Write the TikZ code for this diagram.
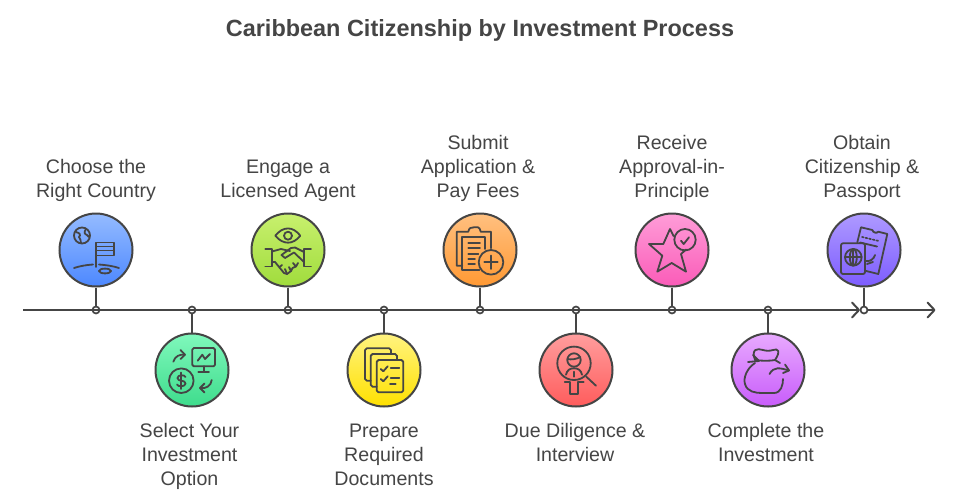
\documentclass[tikz,border=0pt]{standalone}
\usepackage{fontspec}
\setmainfont{Liberation Sans}
\usetikzlibrary{arrows.meta}
\definecolor{ink}{HTML}{454545}
\definecolor{ta}{HTML}{94BBFF}\definecolor{ba}{HTML}{4D88FF}
\definecolor{tb}{HTML}{80F8BC}\definecolor{bb}{HTML}{3EDC8C}
\definecolor{tc}{HTML}{C8F06E}\definecolor{bc}{HTML}{A0DC3C}
\definecolor{td}{HTML}{FFF380}\definecolor{bd}{HTML}{FFE000}
\definecolor{te}{HTML}{FFC080}\definecolor{be}{HTML}{FF9933}
\definecolor{tf}{HTML}{FF9E9E}\definecolor{bf}{HTML}{FF5C5C}
\definecolor{tg}{HTML}{FF9DD8}\definecolor{bg}{HTML}{FA5BB8}
\definecolor{th}{HTML}{E8AAFF}\definecolor{bh}{HTML}{C85CFA}
\definecolor{ti}{HTML}{AE9AFF}\definecolor{bi}{HTML}{7D5CFF}
\tikzset{
  x=1pt,y=-1pt,
  ic/.style={draw=ink,line width=1.8pt,line cap=round,line join=round},
  badge/.style={circle,draw=ink,line width=2pt,minimum size=73pt,inner sep=0pt,top color=t#1,bottom color=b#1},
  dotmark/.style={circle,draw=ink,line width=1.7pt,minimum size=7pt,inner sep=0pt},
  tline/.style={draw=ink,line width=2pt},
  lbl/.style={text=ink,align=center,font=\fontsize{19.6}{24}\selectfont,inner sep=0pt},
}
\begin{document}
\begin{tikzpicture}
\useasboundingbox (0,0) rectangle (960,499);
\fill[white] (0,0) rectangle (960,499);
\node[text=ink,font=\fontsize{23.45}{28}\bfseries\selectfont,inner sep=0pt] (title) at (480,30) {Caribbean Citizenship by Investment Process};
% timeline
\coordinate (tstart) at (23,310);
\coordinate (tmid) at (860,310);
\coordinate (tend) at (935.5,310);
\node[dotmark] (d1) at (96,310) {};
\node[dotmark] (d2) at (192,310) {};
\node[dotmark] (d3) at (288,310) {};
\node[dotmark] (d4) at (384,310) {};
\node[dotmark] (d5) at (480,310) {};
\node[dotmark] (d6) at (576,310) {};
\node[dotmark] (d7) at (672,310) {};
\node[dotmark] (d8) at (768,310) {};
\draw[tline,-{Straight Barb[length=7pt,width=15pt,round]}] (tstart) -- (tmid);
\draw[tline,-{Straight Barb[length=7pt,width=15pt,round]}] (tmid) -- (tend);
\node[dotmark,fill=white] (d9) at (864,310) {};
% badges
\node[badge=a] (c1) at (96,250) {};
\node[badge=b] (c2) at (192,370) {};
\node[badge=c] (c3) at (288,250) {};
\node[badge=d] (c4) at (384,370) {};
\node[badge=e] (c5) at (480,250) {};
\node[badge=f] (c6) at (576,370) {};
\node[badge=g] (c7) at (672,250) {};
\node[badge=h] (c8) at (768,370) {};
\node[badge=i] (c9) at (864,250) {};
\foreach \i in {1,...,9} {\draw[tline] (c\i) -- (d\i);}
% labels
\node[lbl] (l1) at (96,180.5) {\strut Choose the\\\strut Right Country};
\node[lbl] (l2) at (189.5,456.5) {\strut Select Your\\Investment\\\strut Option};
\node[lbl] (l3) at (288,180.5) {\strut Engage a\\\strut Licensed Agent};
\node[lbl] (l4) at (384,456.5) {\strut Prepare\\Required\\\strut Documents};
\node[lbl] (l5) at (478,168.5) {\strut Submit\\Application \&\\\strut Pay Fees};
\node[lbl] (l6) at (575,444.5) {\strut Due Diligence \&\\\strut Interview};
\node[lbl] (l7) at (672,168.5) {\strut Receive\\Approval-in-\\\strut Principle};
\node[lbl] (l8) at (766,444.5) {\strut Complete the\\\strut Investment};
\node[lbl] (l9) at (862,168.5) {\strut Obtain\\Citizenship \&\\\strut Passport};
% icon 1
\begin{scope}[shift={(96,250)},ic]
\draw (-14,-14.5) circle[radius=8];
\draw (-20,-18) .. controls (-16,-17) and (-15,-15) .. (-17,-13) .. controls (-16,-11) and (-15,-10) .. (-15,-7);
\draw (-10,-21) .. controls (-12,-18) and (-12,-16) .. (-9,-15) -- (-7,-13);
\draw (0,17) -- (0,-7.5) -- (18,-7.5) -- (18,5.5) -- (0,5.5);
\draw (0,-3.5) -- (18,-3.5) (0,.5) -- (18,.5);
\draw (-22,18) .. controls (-16,16) and (-10,15) .. (-3,14.5);
\draw (3,14.5) .. controls (10,15) and (17,16) .. (23,18);
\draw (9,21) ellipse[x radius=6,y radius=2.4];
\end{scope}
% icon 2
\begin{scope}[shift={(192,370)},ic]
\draw[rounded corners=1.5] (0.3,-22) rectangle (23,-3.7);
\draw (11.7,-3.7) -- (11.7,1.7) (6.3,1.7) -- (17,1.7);
\draw (5.7,-9.3) -- (10.3,-15.3) -- (13,-11) -- (18,-16);
\draw (-10.7,10.7) circle[radius=12.3];
\draw (-6.5,7) .. controls (-7,4.5) and (-14.5,4.5) .. (-14.5,8) .. controls (-14.5,12) and (-6.5,9.5) .. (-6.5,13.5) .. controls (-6.5,17) and (-14.5,17) .. (-15,14.5);
\draw (-10.7,2.5) -- (-10.7,19);
\draw (-18.7,-8.3) .. controls (-17,-14) and (-12,-16) .. (-7,-15.3);
\draw (-11.5,-20) -- (-7,-15.3) -- (-11.5,-11);
\draw (19.7,10) .. controls (19,16) and (14,19) .. (8,18);
\draw (12.5,13.5) -- (8,18) -- (12.5,22.5);
\end{scope}
% icon 3
\begin{scope}[shift={(288,250)},ic]
\draw (-12.7,-14.3) .. controls (-5,-24) and (5,-24) .. (12.3,-14.3) .. controls (5,-5) and (-5,-5) .. (-12.7,-14.3) -- cycle;
\draw (0,-14.3) circle[radius=4];
\draw (-22.7,-1) -- (-16,-1) -- (-16,16.5) -- (-22.7,16.5);
\draw (23,-1) -- (16,-1) -- (16,16.5) -- (23,16.5);
\draw (-16,1.5) -- (-7,-1) -- (2,1);
\draw (16,2) -- (7,-2.5) -- (3,-2) -- (-6.5,5) -- (-3,8) -- (6,2.5) -- (16,12);
\draw (-16,12) -- (-13,12) -- (-4,23) -- (-1,24) -- (3,21) -- (4.5,18) -- (8,16.5) -- (10,13);
\draw (-8.5,17) -- (-6,15) (-1,24) -- (-3,19) (3,21) -- (1,17) (8,16.5) -- (5,13);
\end{scope}
% icon 4
\begin{scope}[shift={(384,370)},ic,rounded corners=1.8]
\draw (7,-16) -- (7,-21.7) -- (-19,-21.7) -- (-19,10.7) -- (-13.3,10.7);
\draw (13,-10) -- (13,-16) -- (-13.3,-16) -- (-13.3,16.7) -- (-7.3,16.7);
\draw (-7.3,-10) rectangle (19.3,22.3);
\end{scope}
\begin{scope}[shift={(384,370)},ic]
\draw (-3.3,-1) -- (-.7,1.3) -- (3.7,-3.7);
\draw (-3.3,9) -- (-.7,11.3) -- (3.7,6.3);
\draw (6.7,-1.7) -- (15.3,-1.7) (6.7,8) -- (15.3,8) (6,14) -- (11.7,14);
\end{scope}
% icon 5
\begin{scope}[shift={(480,250)},ic]
\draw (11,-1.7) -- (11,-18.3) -- (.7,-18.3) .. controls (0,-24) and (-4,-23) .. (-6,-22.7) .. controls (-9,-23) and (-11,-22) .. (-11.7,-18.3) -- (-23.3,-18.3) -- (-23.3,15.7) -- (-17.7,15.7);
\draw (5,-1) -- (5,-12.7) -- (-17.7,-12.7) -- (-17.7,20) -- (-.7,20);
\draw (-11.7,-7) -- (0,-7) (-11.7,-1.7) -- (0,-1.7) (-11.7,4) -- (-1.7,4) (-11.7,9) -- (-5,9) (-11.7,14) -- (-5,14);
\draw (11,12.3) circle[radius=12.3];
\draw (11,5.6) -- (11,19) (4.3,12.3) -- (17.7,12.3);
\end{scope}
% icon 6
\begin{scope}[shift={(576,370)},ic]
\draw (-2,-6.7) circle[radius=16.7];
\draw (10.3,6.7) -- (20,15.7);
\draw (-2,-10) circle[radius=6.7];
\draw (-8.5,-11) .. controls (-5,-10) and (1,-11) .. (4.3,-13);
\draw (-10,4.7) .. controls (-9,0) and (-6,-1.7) .. (-2,-1.7) .. controls (2,-1.7) and (5,0) .. (6,4.7);
\draw (-2,1.7) -- (-2,6.7);
\draw (-11.3,12.3) -- (-5.7,12.3) -- (-5.7,24) -- (1.7,24) -- (1.7,12.3) -- (7.7,12.3);
\end{scope}
% icon 7
\begin{scope}[shift={(672,250)},ic]
\draw (1.5,-14) -- (-2,-21) -- (-8.7,-6) -- (-23,-6) -- (-9.7,5.7) -- (-14.7,21.7) -- (-.3,13) -- (14,21.7) -- (9,4) -- (14,-.5);
\draw (13,-10.3) circle[radius=10.7];
\draw (9,-9.3) -- (11.7,-6) -- (17,-12.7);
\end{scope}
% icon 8
\begin{scope}[shift={(768,370)},ic]
\draw (-13,-10) .. controls (-17,-21) and (-11,-22) .. (-5,-20) .. controls (-2,-19) and (2,-19) .. (5,-20) .. controls (10,-22) and (13,-19) .. (7,-10);
\draw (-13,-10) .. controls (-6,-9) and (2,-9) .. (7,-10);
\draw (-20,-8) -- (-9,-9) (-15,-15) -- (-9,-9);
\draw (7,-10) -- (12,-7);
\draw (-13,-7) .. controls (-21,-2) and (-25,8) .. (-23,14) .. controls (-21,22) and (-12,23) .. (-6,23) -- (6,23) .. controls (13,23) and (15,15) .. (15,9);
\draw (1.5,4) .. controls (6,-4) and (12,-2) .. (21,.5);
\draw (17,-5.5) -- (21,.5) -- (15,3);
\end{scope}
% icon 9
\begin{scope}[shift={(864,250)},ic]
\draw[rounded corners=2] (-23,-6.7) rectangle (1,24);
\draw (-10.7,7.3) circle[radius=8.3];
\draw (-10.7,7.3) ellipse[x radius=3.5,y radius=8.3];
\draw (-19,7.3) -- (-2.4,7.3) (-10.7,-1) -- (-10.7,15.6);
\draw (-6.7,-7.7) -- (-3,-22.7) -- (8.3,-20) .. controls (9,-17) and (13,-16.5) .. (14.3,-18.3) -- (23.3,-16) -- (14.3,24) -- (1,20.7);
\draw[dotted,line width=1.7pt] (-2,-13) -- (15,-9);
\draw (-4,-7.5) -- (13,-3.5);
\draw (1,11) .. controls (6,12) and (10,9) .. (11,5) (3,14) -- (9,12);
\end{scope}
\end{tikzpicture}
\end{document}
